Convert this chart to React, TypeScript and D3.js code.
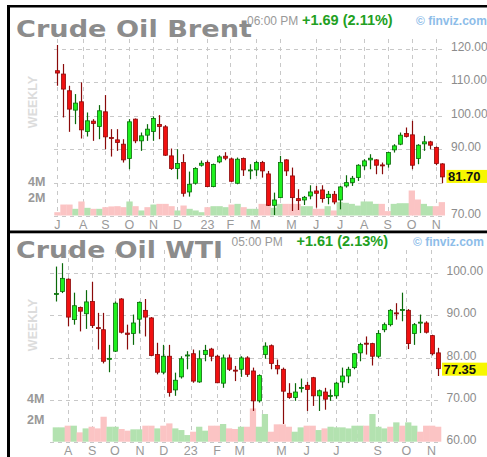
import React from 'react';
import * as d3 from 'd3';

type OHLC = [number, number, number, number];

// ---------- Crude Oil Brent (weekly) ----------
const brentOHLC: OHLC[] = [
  [113.5, 121.2, 109, 112.8], [112.5, 115.5, 99.5, 108], [107.5, 109, 95.2, 102], [101.7, 106.5, 97.5, 103.8],
  [104.2, 110, 93.2, 95.8], [95.3, 101, 93.8, 98.5], [98.4, 99, 92.5, 97.7], [96.8, 103.2, 93, 101.5],
  [101.2, 106.2, 90, 93.7], [93.5, 96, 87.8, 93.2], [92.8, 96, 89.5, 92], [91.5, 93, 86, 86.8],
  [87.2, 99, 84, 98.2], [99, 99.2, 91.8, 92.5], [92.5, 95, 89.5, 94], [94.2, 97.5, 92.5, 96],
  [95.3, 99.8, 92.5, 99.2], [97.4, 100.2, 93, 96.8], [96.7, 97.2, 88, 88.2], [88, 90.2, 83.8, 84.2],
  [84.2, 90, 81, 85.7], [86, 88.5, 75.8, 76.8], [77.2, 83.3, 75.8, 79.5], [79.8, 84.6, 79.4, 84.2],
  [85.2, 86.6, 84.8, 85.8], [86, 86.6, 78.6, 78.8], [78.8, 85.7, 78.6, 85.4], [86.2, 88.2, 85.8, 87.7],
  [87.9, 89.1, 86.7, 87.3], [87.1, 87.5, 80.1, 80.4], [79.8, 87.5, 79.5, 87], [87.2, 87.5, 82, 83.8],
  [83.5, 85.5, 81, 83.8], [83.8, 86.5, 82, 86], [86, 86.5, 81.5, 83.5], [82.6, 83.5, 73, 73.2],
  [73.2, 77, 70.3, 74.8], [75.5, 88, 75.3, 86], [86.8, 87, 82, 83.5], [82, 84.5, 71.5, 75.5],
  [75.2, 78, 71.8, 74.6], [74.8, 76, 73.3, 75.6], [76, 79.2, 75, 77.2], [77.5, 79, 72.5, 76.8],
  [77.8, 79.2, 74, 75.2], [75.5, 77.5, 73.5, 76.5], [76.5, 77.5, 73.5, 74.2], [74.8, 79, 72, 78.7],
  [79, 82.2, 78.5, 80], [80, 82, 79, 81.3], [81.5, 85.5, 80.5, 85.2], [85, 87, 83.8, 86.5],
  [86.8, 88.5, 84, 87.3], [86.8, 87, 82.5, 85.2], [85.3, 86, 82.5, 85.2], [85.5, 89.2, 84.5, 89],
  [89.8, 91.5, 89, 91], [91.5, 95, 91.2, 94.2], [94.7, 96.5, 93.5, 93.8], [94.3, 98.5, 84, 85.2],
  [87.2, 91.5, 85.5, 91.2], [91.6, 94, 89.5, 92.2], [92.2, 92.5, 90, 91.2], [90.5, 90.8, 85.2, 85.7],
  [85.6, 85.8, 79.8, 81.7],
];
const brentVolume = [
  0.4, 1.33, 1.33, 0.81, 1.7, 0.93, 0.81, 0.81, 1.01, 1.1, 1.13, 1.01, 1.7, 1.13, 0.61, 1.01,
  1.33, 1.41, 1.41, 1.13, 0.61, 1.21, 0.81, 0.61, 0.4, 1.01, 1.13, 1.13, 1.01, 1.33, 1.41, 1.01,
  0.81, 0.81, 1.41, 1.41, 0.93, 1.41, 1.41, 1.41, 1.41, 1.13, 1.13, 0.81, 0.81, 1.13, 0.61, 1.62,
  1.54, 1.41, 1.2, 1.7, 1.7, 1.41, 1.41, 0.53, 1.41, 1.49, 1.49, 3.03, 1.94, 1.41, 1.13, 1.13, 1.62,
];
const brentVolColor = 'rrrgrgrgrrrrgrgrgrrrgrgggrgggrgrggrrggrrrggrrgrgggggggrrgggrrggrrr'.split('');
const brentTickLabels = ['J', 'A', 'S', 'O', 'N', 'D', '23', 'F', 'M', 'M', 'J', 'J', 'A', 'S', 'O', 'N'];
const brentTickIdx = [0, 4.3, 8, 12, 16, 20, 25, 28.8, 33, 39, 43.1, 47.1, 51.1, 55, 59, 63.1];
const brentGridIdx = [0, 4.3, 8, 12, 16, 20, 25, 28.8, 33, 37.1, 43.1, 47.1, 51.1, 55, 59, 63.1];
const brentPriceTicks = [120, 110, 100, 90, 80, 70];
const brentLast = 81.7;

// ---------- Crude Oil WTI (weekly) ----------
const wtiOHLC: OHLC[] = [
  [95.0, 101.6, 93.3, 95.2], [95.7, 102.4, 95.3, 98.8], [98.6, 98.8, 87.4, 89.6], [89, 95.4, 87.8, 92.3],
  [91.9, 92.1, 86.2, 91], [90.4, 96, 86.8, 93.2], [93.3, 98, 87, 87.6], [87.1, 90.6, 81.9, 87],
  [86.6, 90.6, 78.6, 79.1], [79.7, 83, 76.5, 79.8], [81.5, 93.3, 81.3, 92.9], [93.9, 94.1, 85.7, 86],
  [85.8, 87.8, 81.9, 85.5], [85.7, 90.2, 83, 88.2], [89.1, 93.3, 85.7, 93.1], [91.2, 93.9, 85, 89.6],
  [89.4, 89.6, 80.3, 80.5], [80.7, 83.5, 76, 76.5], [76.5, 83, 76, 80.3], [80.3, 83, 70.7, 71.7],
  [72.3, 76.4, 70.9, 74.6], [75.4, 80.3, 75, 79.7], [80.4, 81.5, 77.2, 80.6], [80.9, 81.9, 74, 74.4],
  [74.2, 81.7, 74, 79.7], [80.7, 83, 79.1, 81.7], [82, 82.3, 79.1, 80.3], [80.3, 80.6, 73.9, 74],
  [73.9, 80.7, 72.8, 79.9], [79.9, 80.7, 76.8, 77.2], [77, 78, 74.4, 76.8], [77.2, 80.3, 75.4, 79.9],
  [79.9, 80.3, 75.4, 76], [76.8, 77.6, 67.3, 69.7], [69.7, 76, 69.3, 75.7], [80.7, 83.6, 79.7, 82.7],
  [82.8, 83.1, 77.2, 78.6], [78.1, 79.5, 76, 77.3], [77.2, 77.6, 64.2, 72], [71.5, 73.9, 70.2, 70.5],
  [70.5, 73.9, 69.7, 71.8], [72.8, 75, 71.7, 72.9], [73.4, 74.2, 67.3, 72.4], [75.2, 75.4, 68.5, 70.9],
  [70.9, 72.4, 67.3, 72.1], [71.8, 72.8, 67.6, 70.1], [70.8, 72.4, 69.7, 71], [70.9, 74.2, 70.2, 73.9],
  [74.2, 77.6, 72.8, 75.6], [75.6, 77.8, 73.9, 77.2], [77.6, 81.1, 77.2, 80.9], [81.1, 83.5, 79.1, 83.1],
  [83.4, 85, 80.7, 83.2], [83.3, 83.5, 78.1, 80.3], [80.3, 86.5, 79.9, 85.7], [86.6, 88.3, 86, 87.8],
  [87.8, 91.5, 87.4, 91.2], [90.6, 92.9, 89, 90.5], [91.2, 95.4, 88.6, 91.4], [91.2, 91.5, 82, 83.3],
  [85.7, 88.2, 83, 87.8], [88.2, 90.2, 85.8, 88.4], [88.2, 88.6, 85.7, 86], [85.2, 85.4, 80.5, 80.9],
  [81.1, 82.3, 75.6, 77.35],
];
const wtiVolume = [
  1.38, 1.38, 1.54, 1.54, 0.9, 1.28, 1.44, 1.28, 2.4, 1.44, 1.44, 1.22, 1.06, 1.19, 1.19, 1.54,
  1.54, 1.28, 1.54, 1.76, 1.28, 1.12, 0.64, 0.96, 1.44, 1.06, 1.54, 1.54, 1.7, 1.28, 1.22, 1.44,
  1.44, 3.2, 1.44, 2.66, 0.96, 1.67, 1.67, 1.44, 0.96, 1.38, 1.54, 1.54, 1.12, 1.28, 1.44, 1.38,
  1.38, 1.28, 1.54, 1.54, 1.54, 2.66, 1.44, 1.28, 1.44, 1.86, 1.54, 1.86, 1.54, 0.96, 1.54, 1.54, 1.44,
];
const wtiVolColor = 'ggrgrgrrrggrrggrrgrrgggrggrrgrrgrrggrrrrggrrgrggggggrgggrgrggrrr'.split('');
const wtiTickLabels = ['A', 'S', 'O', 'N', 'D', '23', 'F', 'M', 'M', 'J', 'J', 'S', 'O', 'N'];
const wtiTickIdx = [2.1, 6.1, 9.9, 14.1, 18.1, 22.6, 27, 30.8, 37.8, 42, 47, 53.9, 58.7, 62.9];
const wtiGridIdx = [2.1, 6.1, 9.9, 14.1, 18.1, 22.6, 27, 30.8, 34.6, 42, 47, 50.4, 53.9, 58.7, 62.9];
const wtiPriceTicks = [100, 90, 80, 70, 60];
const wtiLast = 77.35;

const volTicks = [4, 2];

interface PanelCfg {
  title: string;
  titleLen: number;
  time: string;
  change: string;
  ohlc: OHLC[];
  vol: number[];
  volColor: string[];
  tickLabels: string[];
  tickIdx: number[];
  gridIdx: number[];
  priceTicks: number[];
  last: number;
  top: number;
  x0: number;
  x1: number;
  yTop: number;
  yBottom: number;
  domain: [number, number];
  volBase: number;
  volPx: number;
  gridTop: number;
  gridLeft: number;
  gridRight: number;
  timeX: number;
  changeX: number;
  finvizX: number;
  priceLabelX: number;
  monthY: number;
  weeklyY: number;
  volLabelX: number;
  headerDy: number;
  lastDy: number;
}

const GRAY = '#8c8c8c';
const FONT = 'Liberation Sans, Arial, sans-serif';

function Panel({ c }: { c: PanelCfg }) {
  const x = d3.scaleLinear().domain([0, c.ohlc.length - 1]).range([c.x0, c.x1]);
  const y = d3.scaleLinear().domain(c.domain).range([c.yBottom, c.yTop]);
  const v = d3.scaleLinear().domain([0, 1]).range([c.volBase, c.volBase - c.volPx]);
  const step = (c.x1 - c.x0) / (c.ohlc.length - 1);
  const bw = 4;
  const headerY = c.top + c.headerDy;
  const lastY = y(c.last) + c.lastDy;
  const shownTicks = c.priceTicks.filter((t) => Math.abs(y(t) - y(c.last)) > 10);
  return (
    <g>
      {/* grid */}
      {c.priceTicks.map((t) => (
        <line key={'h' + t} x1={c.gridLeft} x2={c.gridRight} y1={Math.round(y(t)) + 0.5} y2={Math.round(y(t)) + 0.5}
          stroke="#c8c8c8" strokeDasharray="4,4" />
      ))}
      {c.gridIdx.map((t, i) => (
        <line key={'v' + i} x1={Math.round(x(t)) + 0.5} x2={Math.round(x(t)) + 0.5} y1={c.gridTop} y2={c.volBase}
          stroke="#c8c8c8" strokeDasharray="4,4" />
      ))}
      {/* volume */}
      {c.vol.map((val, i) => (
        <rect key={'vol' + i} x={x(i) - step / 2} y={v(val)} width={step + 0.3} height={c.volBase - v(val)}
          fill={c.volColor[i] === 'g' ? '#b3e2b0' : '#fbc4c4'} />
      ))}
      {/* candles */}
      {c.ohlc.map(([o, h, l, cl], i) => {
        const up = cl >= o;
        const dark = up ? '#0a6a0a' : '#8a0a0a';
        const fill = up ? '#1ef01e' : '#f01010';
        const cx = Math.round(x(i)) + 0.5;
        const yt = y(Math.max(o, cl));
        const yb = y(Math.min(o, cl));
        const bh = Math.max(1, yb - yt);
        return (
          <g key={'c' + i}>
            <line x1={cx} x2={cx} y1={y(h)} y2={y(l)} stroke={dark} strokeWidth={1.2} />
            <rect x={cx - bw / 2} y={yt} width={bw} height={bh} fill={fill} stroke={dark} strokeWidth={0.8} />
          </g>
        );
      })}
      {/* title */}
      <text x={16} y={c.top + 31.5} fontFamily="DejaVu Sans, sans-serif" fontWeight="bold" fontSize={23}
        fill="#8c8c8c" textLength={c.titleLen} lengthAdjust="spacingAndGlyphs">{c.title}</text>
      <text x={c.timeX} y={headerY} fontFamily={FONT} fontSize={12} fill="#999">{c.time}</text>
      <text x={c.changeX} y={headerY} fontFamily={FONT} fontSize={14.5} fontWeight="bold" fill="#22a022">{c.change}</text>
      <text x={c.finvizX} y={headerY} fontFamily={FONT} fontSize={12} fontWeight="bold" fill="#8dbde9">© finviz.com</text>
      {/* weekly */}
      <text transform={`translate(37,${c.weeklyY}) rotate(-90)`} textAnchor="middle" fontFamily={FONT}
        fontWeight="bold" fontSize={12.5} fill="#dcdcdc">WEEKLY</text>
      {/* volume labels */}
      {volTicks.map((t) => (
        <text key={'vl' + t} x={c.volLabelX} y={v(t) - 1} dominantBaseline="central" fontFamily={FONT}
          fontWeight="bold" fontSize={12.5} fill="#999">{t}M</text>
      ))}
      {/* price labels */}
      {shownTicks.map((t) => (
        <text key={'pl' + t} x={c.priceLabelX} y={y(t) - 2} dominantBaseline="central" fontFamily={FONT}
          fontSize={12} fill={GRAY}>{t.toFixed(2)}</text>
      ))}
      <rect x={c.priceLabelX - 4.5} y={lastY - 6.5} width={60} height={13} fill="#f7f700" />
      <text x={c.priceLabelX - 3} y={lastY + 0.5} dominantBaseline="central" fontFamily={FONT} fontWeight="bold"
        fontSize={13} fill="#111">{c.last.toFixed(2)}</text>
      {/* month labels */}
      {c.tickLabels.map((t, i) => (
        <text key={'m' + i} x={x(c.tickIdx[i])} y={c.monthY} textAnchor="middle" fontFamily={FONT}
          fontSize={12.5} fill="#999">{t}</text>
      ))}
    </g>
  );
}

const brentCfg: PanelCfg = {
  title: 'Crude Oil Brent', titleLen: 236, time: '06:00 PM', change: '+1.69 (2.11%)',
  ohlc: brentOHLC, vol: brentVolume, volColor: brentVolColor, tickLabels: brentTickLabels,
  tickIdx: brentTickIdx, gridIdx: brentGridIdx, priceTicks: brentPriceTicks, last: brentLast,
  top: 5, x0: 57.3, x1: 441.7, yTop: 49, yBottom: 216, domain: [70, 120], volBase: 215.5, volPx: 8.25,
  gridTop: 39, gridLeft: 54, gridRight: 442, timeX: 247, changeX: 302, finvizX: 416, priceLabelX: 451,
  monthY: 228.5, weeklyY: 102, volLabelX: 28, headerDy: 19.5, lastDy: -0.5,
};

const wtiCfg: PanelCfg = {
  title: 'Crude Oil WTI', titleLen: 207, time: '05:00 PM', change: '+1.61 (2.13%)',
  ohlc: wtiOHLC, vol: wtiVolume, volColor: wtiVolColor, tickLabels: wtiTickLabels,
  tickIdx: wtiTickIdx, gridIdx: wtiGridIdx, priceTicks: wtiPriceTicks, last: wtiLast,
  top: 226, x0: 55.7, x1: 438, yTop: 273.3, yBottom: 441.7, domain: [60, 100], volBase: 441.7, volPx: 10.4,
  gridTop: 250, gridLeft: 50, gridRight: 441, timeX: 231.5, changeX: 296.5, finvizX: 413, priceLabelX: 446.5,
  monthY: 455, weeklyY: 325, volLabelX: 27, headerDy: 19.5, lastDy: 0.5,
};

export default function App() {
  return (
    <svg width={487} height={457} style={{ position: 'absolute', left: 0, top: 0, background: '#fff' }}>
      <rect x={0} y={0} width={487} height={457} fill="#fff" />
      <Panel c={brentCfg} />
      <Panel c={wtiCfg} />
      {/* frame */}
      <rect x={7} y={5} width={480} height={2.5} fill="#000" />
      <rect x={7} y={230.5} width={480} height={2.8} fill="#000" />
      <rect x={7} y={5} width={3} height={452} fill="#000" />
    </svg>
  );
}
